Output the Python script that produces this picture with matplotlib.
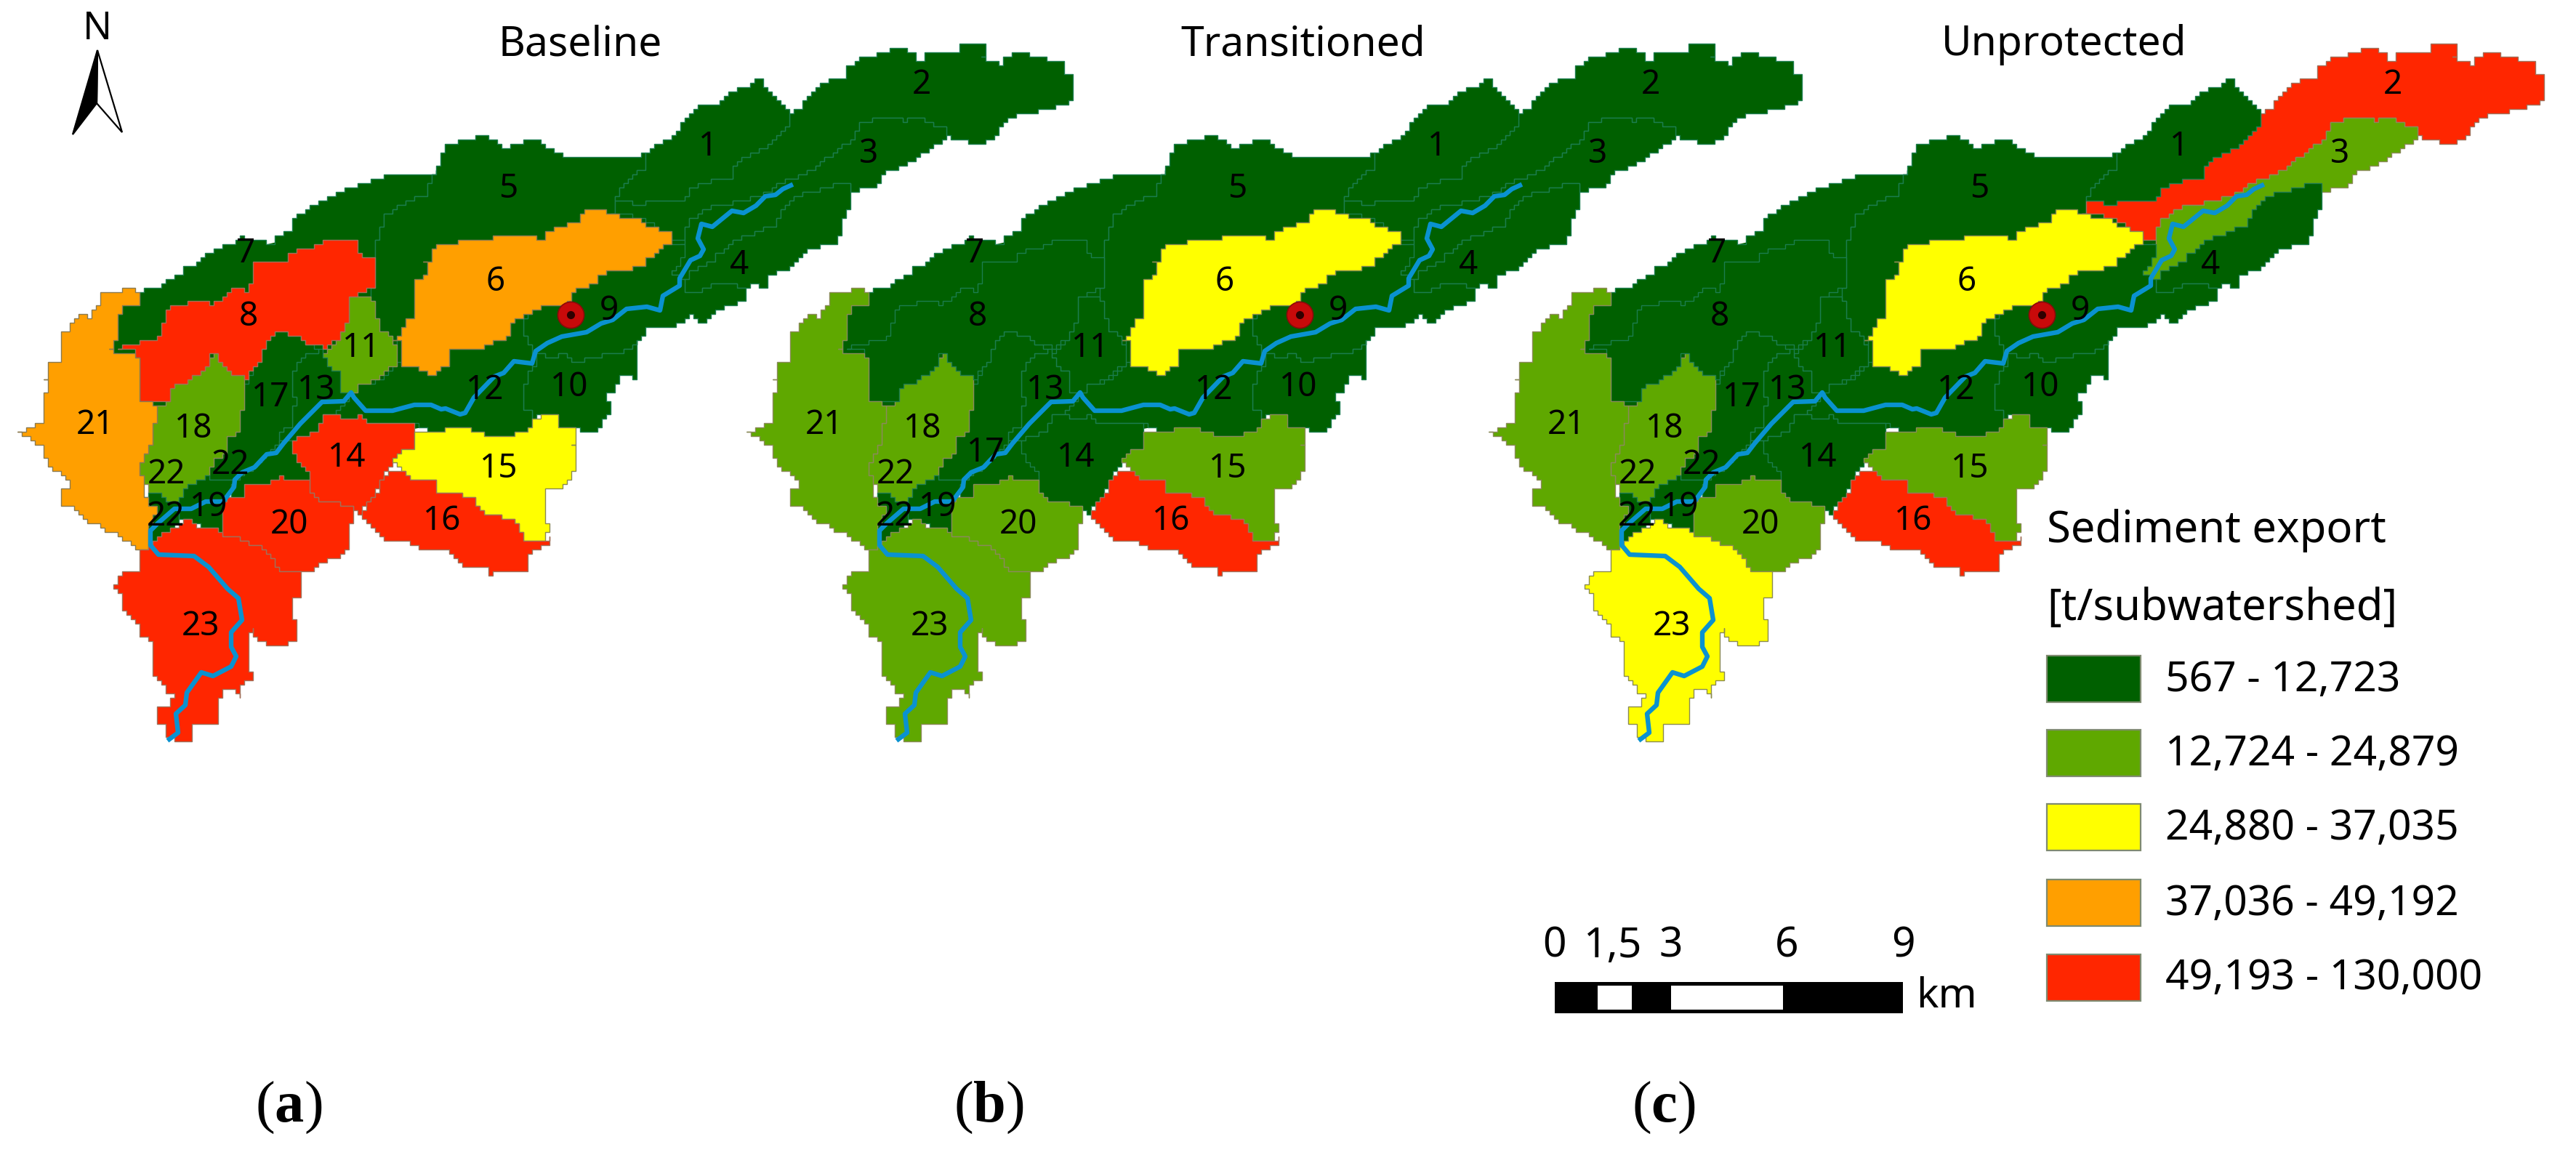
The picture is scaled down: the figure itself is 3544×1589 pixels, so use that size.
import matplotlib
matplotlib.use("Agg")
import matplotlib.pyplot as plt
from matplotlib.patches import Polygon, Rectangle

plt.rcParams["font.family"] = ["Noto Sans", "DejaVu Sans"]
plt.rcParams["mathtext.fontset"] = "custom"
plt.rcParams["mathtext.bf"] = "Liberation Serif:bold"

# subwatershed outlines, image pixels
shapes = {
    1: [(888,210),(910,193),(932,182),(940,163),(960,147),(995,138),(997,130),(1027,117),(1040,110),(1050,120),(1087,153),(1087,170),(1067,187),(1048,203),(1013,220),(1007,243),(973,250),(947,260),(940,277),(910,277),(875,280),(845,277),(845,270),(868,240),(888,227)],
    2: [(845,277),(875,280),(910,277),(940,277),(947,260),(973,250),(1007,243),(1013,220),(1048,203),(1067,187),(1087,170),(1087,153),(1100,148),(1103,137),(1127,112),(1160,108),(1162,92),(1182,80),(1205,73),(1224,67),(1243,67),(1257,82),(1272,82),(1274,72),(1316,72),(1320,63),(1354,63),(1352,77),(1372,90),(1377,80),(1389,72),(1412,72),(1416,78),(1437,78),(1439,83),(1460,87),(1462,100),(1475,102),(1476,133),(1461,143),(1450,147),(1423,153),(1400,157),(1374,172),(1366,193),(1337,198),(1314,193),(1301,187),(1301,177),(1282,173),(1266,162),(1243,165),(1215,162),(1182,168),(1176,187),(1144,210),(1121,230),(1083,247),(1048,267),(1006,278),(977,283),(945,303),(939,332),(923,328),(880,300),(843,292)],
    3: [(1301,187),(1293,193),(1262,217),(1243,227),(1220,235),(1201,257),(1171,263),(1163,253),(1152,253),(1094,270),(1067,297),(1065,313),(1048,315),(1006,330),(987,347),(979,360),(949,373),(941,387),(922,377),(941,330),(945,303),(977,283),(1006,278),(1048,267),(1083,247),(1121,230),(1144,210),(1176,187),(1182,168),(1215,162),(1243,165),(1266,162),(1282,173),(1301,177)],
    4: [(1171,263),(1163,253),(1152,253),(1094,270),(1067,297),(1065,313),(1048,315),(1006,330),(987,347),(979,360),(949,373),(941,387),(942,402),(957,400),(983,390),(1025,395),(1040,388),(1043,393),(1055,393),(1057,380),(1087,367),(1110,343),(1150,333),(1160,313),(1157,297),(1167,290)],
    5: [(597,233),(614,199),(663,187),(688,203),(730,191),(779,218),(854,218),(888,210),(888,227),(868,240),(845,270),(843,292),(798,300),(793,320),(752,330),(740,340),(677,340),(600,350),(575,385),(575,427),(548,470),(538,472),(530,457),(520,458),(518,427),(510,408),(513,390),(513,358),(515,330),(523,320),(530,293),(553,280),(585,264)],
    6: [(593,340),(632,332),(660,330),(677,327),(707,322),(732,322),(740,330),(750,328),(752,317),(763,312),(793,305),(798,292),(813,290),(847,292),(852,297),(877,298),(880,307),(893,313),(923,322),(923,337),(907,340),(897,353),(885,360),(883,368),(840,371),(823,377),(818,392),(793,395),(780,412),(773,417),(743,418),(727,432),(707,438),(700,457),(687,468),(677,468),(657,480),(618,482),(617,500),(600,510),(592,518),(580,510),(552,502),(550,477),(543,470),(560,437),(568,427),(568,385),(582,377),(587,370),(583,357),(593,350)],
    7: [(192,403),(197,398),(220,392),(237,380),(247,377),(253,365),(263,365),(273,352),(293,343),(315,335),(330,327),(363,330),(367,333),(377,322),(397,320),(406,295),(460,264),(527,243),(589,237),(597,233),(585,264),(553,280),(530,293),(523,320),(515,330),(513,358),(493,370),(480,400),(400,420),(300,470),(230,490),(170,495),(150,478),(160,463),(160,433),(165,423),(187,417)],
    8: [(160,480),(180,483),(192,500),(193,520),(190,550),(220,553),(233,547),(235,533),(257,523),(287,500),(288,488),(298,487),(302,500),(320,513),(333,522),(340,517),(353,497),(363,483),(365,470),(380,458),(397,460),(413,468),(430,475),(443,477),(463,468),(470,453),(483,438),(480,413),(477,408),(497,400),(513,390),(513,358),(493,350),(490,333),(480,328),(443,332),(417,343),(395,348),(392,362),(350,362),(348,383),(338,400),(320,395),(305,410),(285,420),(277,415),(267,415),(233,420),(227,437),(220,453),(213,468),(167,475)],
    9: [(725,433),(743,418),(773,417),(780,412),(793,395),(818,392),(823,377),(840,371),(883,368),(885,360),(897,353),(907,340),(923,337),(941,333),(941,345),(922,377),(941,387),(942,402),(957,400),(983,390),(1025,395),(1023,413),(983,427),(963,442),(950,435),(923,450),(910,448),(887,448),(883,467),(878,470),(843,488),(807,490),(795,500),(780,492),(773,485),(750,493),(740,488),(732,503),(730,480),(718,453)],
    10: [(878,470),(878,490),(875,520),(850,517),(845,533),(832,543),(842,563),(820,587),(810,593),(797,593),(787,590),(767,588),(765,573),(752,570),(732,573),(723,563),(718,527),(725,520),(732,503),(740,488),(750,493),(773,485),(780,492),(795,500),(807,490),(843,488)],
    11: [(480,410),(483,438),(470,453),(463,468),(443,485),(450,503),(467,520),(470,540),(482,537),(490,527),(520,523),(520,515),(540,503),(548,498),(548,477),(538,472),(530,457),(520,458),(518,427),(510,408)],
    12: [(490,528),(520,523),(548,498),(552,502),(580,510),(592,518),(600,510),(617,500),(618,482),(657,480),(677,468),(687,468),(700,457),(707,438),(725,433),(718,453),(730,480),(732,503),(725,520),(718,527),(723,563),(732,573),(730,587),(717,593),(695,600),(668,602),(667,595),(643,590),(587,592),(568,583),(507,580),(490,568),(480,575),(467,577),(457,570),(482,537)],
    13: [(437,483),(412,490),(400,520),(405,553),(402,580),(383,595),(387,607),(400,607),(417,597),(437,590),(447,568),(457,570),(482,537),(470,540),(467,520),(450,503),(443,485)],
    14: [(400,607),(417,597),(437,590),(447,568),(457,570),(467,577),(480,575),(490,568),(507,580),(568,583),(568,613),(552,620),(535,642),(520,663),(507,690),(490,705),(477,697),(458,690),(440,692),(428,677),(427,657),(413,640),(403,627)],
    15: [(568,592),(587,592),(640,590),(667,595),(668,602),(695,600),(717,593),(730,587),(733,577),(752,570),(765,573),(767,588),(787,590),(792,597),(787,613),(792,617),(792,645),(785,650),(770,673),(748,675),(748,723),(753,727),(750,743),(720,743),(713,733),(710,717),(697,713),(667,708),(657,703),(653,687),(640,682),(603,678),(602,662),(565,660),(552,645),(538,638),(552,620),(570,617)],
    16: [(536,645),(552,645),(565,660),(602,662),(603,678),(640,682),(653,687),(657,703),(667,708),(697,713),(710,717),(713,733),(720,743),(750,743),(753,740),(751,750),(729,757),(726,783),(713,787),(703,787),(678,788),(678,793),(669,793),(669,783),(643,782),(629,773),(613,755),(573,757),(571,748),(528,743),(508,727),(496,708),(506,690),(519,677),(521,660)],
    17: [(363,483),(365,470),(380,458),(397,460),(413,468),(437,483),(412,490),(400,520),(405,553),(402,580),(383,595),(387,607),(373,620),(365,622),(345,640),(323,660),(297,660),(283,655),(290,640),(310,617),(315,597),(330,587),(335,543),(338,527),(353,497)],
    18: [(293,487),(302,500),(320,513),(333,522),(338,527),(335,543),(330,587),(315,597),(310,617),(290,640),(283,655),(253,670),(245,690),(227,692),(223,682),(207,677),(200,667),(190,640),(207,613),(213,573),(218,557),(233,547),(235,533),(257,523),(287,500)],
    19: [(253,670),(283,655),(297,660),(323,660),(313,680),(307,690),(305,730),(273,725),(263,717),(248,713),(245,690)],
    20: [(307,688),(333,680),(337,668),(370,662),(385,652),(388,657),(425,657),(428,677),(440,692),(458,690),(477,697),(487,707),(482,720),(482,747),(465,760),(463,767),(433,777),(427,787),(383,785),(360,757),(337,743),(307,737)],
    21: [(190,400),(170,398),(168,402),(140,403),(138,413),(133,417),(132,427),(126,428),(126,437),(107,433),(100,445),(95,447),(93,455),(83,458),(83,465),(87,468),(87,483),(83,493),(65,500),(63,523),(67,528),(63,543),(57,547),(57,577),(50,580),(47,587),(23,594),(28,600),(38,603),(50,612),(60,622),(65,640),(72,648),(90,657),(95,663),(87,670),(87,693),(107,707),(122,717),(135,717),(137,725),(153,733),(170,743),(185,755),(202,752),(203,727),(213,703),(198,687),(197,678),(200,670),(190,640),(207,613),(213,573),(218,557),(192,552),(193,517),(192,502),(177,487),(153,483),(150,478),(160,463),(160,433),(165,423),(187,417),(192,405)],
    22: [(198,685),(207,677),(223,682),(227,692),(245,690),(248,713),(227,733),(213,747),(203,752),(202,727),(213,703),(200,693)],
    23: [(193,757),(193,777),(188,787),(168,788),(155,802),(155,810),(168,820),(170,842),(183,852),(195,877),(212,888),(213,937),(227,952),(237,953),(233,968),(222,973),(213,970),(213,993),(230,1002),(230,1013),(243,1017),(262,1017),(263,997),(302,995),(302,963),(308,948),(323,953),(332,957),(333,937),(345,932),(340,920),(340,877),(347,865),(353,882),(368,883),(368,888),(395,888),(395,883),(408,883),(408,855),(403,853),(403,822),(413,812),(413,788),(383,785),(360,757),(337,743),(307,737),(300,730),(263,723),(255,713),(250,717),(223,733),(212,747)],
}
# the dark strip south of the river, second part of 22 (runs in under 14 and 20)
strip_22 = [(323,660),(345,640),(365,622),(373,620),(387,607),(400,607),(410,627),(420,640),(435,665),(385,668),(345,680),(335,690),(307,695)]
# plain dark layer under the subwatersheds, so no white shows where two of them just miss
underlay = [(170,440),(330,345),(520,300),(880,230),(1000,300),(900,430),(730,560),(570,590),(540,600),(400,620),(320,650),(250,680),(240,660),(210,570),(190,510)]

river = [(1088,255),(1077,260),(1067,268),(1053,270),(1040,283),(1023,293),(1007,290),(980,312),(965,308),(960,328),(968,343),(963,352),(950,358),(935,383),(935,393),(912,407),(908,427),(890,422),(862,425),(843,440),(827,445),(807,457),(773,463),(753,472),(737,483),(732,500),(707,497),(693,513),(680,518),(652,547),(640,568),(633,570),(613,562),(607,563),(593,557),(570,557),(540,565),(503,565),(487,547),(483,540),(473,552),(443,553),(413,583),(390,610),(380,623),(367,625),(350,643),(333,650),(323,660),(322,670),(307,690),(283,690),(263,700),(240,700),(217,720),(207,730),(207,750),(218,763),(267,765),(287,780),(313,810),(328,823),(333,853),(318,870),(318,890),(325,903),(318,917),(293,930),(277,925),(257,953),(255,970),(242,982),(245,1008),(233,1017)]

# class of each subwatershed per scenario (0 lowest .. 4 highest)
baseline = {1:0,2:0,3:0,4:0,5:0,6:3,7:0,8:4,9:0,10:0,11:1,12:0,13:0,14:4,15:2,16:4,17:0,18:1,19:0,20:4,21:3,22:0,23:4}
transitioned = {1:0,2:0,3:0,4:0,5:0,6:2,7:0,8:0,9:0,10:0,11:0,12:0,13:0,14:0,15:1,16:4,17:0,18:1,19:0,20:1,21:1,22:0,23:1}
unprotected = {1:0,2:4,3:1,4:0,5:0,6:2,7:0,8:0,9:0,10:0,11:0,12:0,13:0,14:0,15:1,16:4,17:0,18:1,19:0,20:1,21:1,22:0,23:2}

panel_titles = ["Baseline", "Transitioned", "Unprotected"]
panel_tags = ["a", "b", "c"]
title_x = [798, 1793, 2840]
tag_x = [397, 1360, 2289]
offsets = [0, 1003, 2024]

label_names = ["1","2","3","4","5","6","7","8","9","10","11","12","13","14","15","16","17","18","19","20","21","22","22","22","23"]
label_pos = [(974,202),(1268,117),(1195,212),(1017,365),(699,260),(682,388),(338,349),(342,436),(838,428),(783,533),(497,479),(667,537),(435,537),(477,630),(686,645),(608,717),(372,547),(266,590),(287,698),(398,722),(131,585),(229,653),(317,640),(228,711),(276,862)]
# panel (b) has 17 further down and no middle 22
label_pos_b17 = (353,623)

class_colors = ["#006000", "#5fa800", "#ffff00", "#ff9f00", "#ff2600"]
edge_colors = ["#1b7d4e", "#8a8a5a", "#8a8a50", "#8a7a50", "#a0705a"]
legend_labels = ["567 - 12,723", "12,724 - 24,879", "24,880 - 37,035", "37,036 - 49,192", "49,193 - 130,000"]
legend_top = [902, 1004, 1106, 1210, 1313]

scale_km = [0, 1.5, 3, 6, 9]
scale_names = ["0", "1,5", "3", "6", "9"]
scale_white = [(1.1, 2.0), (3.0, 5.9)]

draw_order = [7, 5, 2, 3, 1, 4, 9, 10, 12, 6, 11, 13, 17, 18, 19, 22, 14, 15, 16, 20, 8, 21, 23]


def stair(points, cell=6):
    # grid cells of the raster map: turn every edge into little steps
    out = []
    for a, b in zip(points, points[1:] + points[:1]):
        rev = a > b
        p, q = (b, a) if rev else (a, b)
        n = max(1, int(max(abs(q[0] - p[0]), abs(q[1] - p[1])) / cell))
        seg = []
        for i in range(n + 1):
            x = round((p[0] + (q[0] - p[0]) * i / n) / cell) * cell
            y = round((p[1] + (q[1] - p[1]) * i / n) / cell) * cell
            if seg and seg[-1][0] != x and seg[-1][1] != y:
                seg.append((x, seg[-1][1]))
            seg.append((x, y))
        out += seg[::-1] if rev else seg
    return out


def draw_shape(ax, pts, dx, cls):
    xy = [(x + dx, y) for x, y in stair(pts)]
    ax.add_patch(Polygon(xy, closed=True, facecolor=class_colors[cls],
                         edgecolor=edge_colors[cls], linewidth=0.5))


fig = plt.figure(figsize=(17.72, 7.945), dpi=200)
ax = fig.add_axes([0, 0, 1, 1])
ax.set_xlim(0, 3544)
ax.set_ylim(1589, 0)
ax.axis("off")

for i, scenario in enumerate([baseline, transitioned, unprotected]):
    dx = offsets[i]
    ax.add_patch(Polygon([(x + dx, y) for x, y in underlay], closed=True,
                         facecolor=class_colors[0], edgecolor="none"))
    for sid in draw_order:
        draw_shape(ax, shapes[sid], dx, scenario[sid])
        if sid == 22:
            draw_shape(ax, strip_22, dx, scenario[22])
    ax.plot([x + dx for x, y in river], [y for x, y in river], color="#0a92d0",
            lw=2.3, solid_joinstyle="round", zorder=5)
    ax.plot(785 + dx, 433, marker="o", ms=13, mfc="#c80a0a", mec="#8a0a0a", mew=0.6, zorder=6)
    ax.plot(785 + dx, 433, marker="o", ms=3, color="#300000", zorder=7)

    for k, (name, pos) in enumerate(zip(label_names, label_pos)):
        if i == 1 and k == 22:
            continue
        if i == 1 and name == "17":
            pos = label_pos_b17
        ax.text(pos[0] + dx, pos[1], name, fontsize=16.5, ha="center", va="center", color="black", zorder=8)

    ax.text(title_x[i], 62, panel_titles[i], fontsize=20.5, ha="center", va="center", color="black")
    ax.text(tag_x[i], 1524, "($\\mathbf{" + panel_tags[i] + "}$)", fontsize=29, ha="center", va="center",
            family="Liberation Serif", color="black")

# north arrow
ax.text(134, 40, "N", fontsize=19, ha="center", va="center", color="black")
ax.add_patch(Polygon([(134, 69), (168, 182), (133, 142)], closed=True, facecolor="white", edgecolor="black", linewidth=0.8))
ax.add_patch(Polygon([(134, 69), (100, 185), (133, 142)], closed=True, facecolor="black", edgecolor="black", linewidth=0.8))

# legend
ax.text(2816, 730, "Sediment export", fontsize=21.5, fontweight="semibold", ha="left", va="center", color="black")
ax.text(2816, 837, "[t/subwatershed]", fontsize=21.5, fontweight="semibold", ha="left", va="center", color="black")
for i, lab in enumerate(legend_labels):
    ax.add_patch(Rectangle((2816, legend_top[i]), 129, 64, facecolor=class_colors[i],
                           edgecolor="#7f8a70", linewidth=0.8))
    ax.text(2979, legend_top[i] + 34, lab, fontsize=20.5, ha="left", va="center", color="black")

# scale bar
px_km = (2618 - 2139) / 9
ax.add_patch(Rectangle((2139, 1351), 479, 43, facecolor="black", edgecolor="none"))
for a, b in scale_white:
    ax.add_patch(Rectangle((2139 + a * px_km, 1356), (b - a) * px_km, 33, facecolor="white", edgecolor="none"))
for km, name in zip(scale_km, scale_names):
    ax.text(2139 + km * px_km, 1302, name, fontsize=20.5, ha="center", va="center", color="black")
ax.text(2636, 1372, "km", fontsize=20.5, ha="left", va="center", color="black")

fig.savefig("out.png", dpi=200)
